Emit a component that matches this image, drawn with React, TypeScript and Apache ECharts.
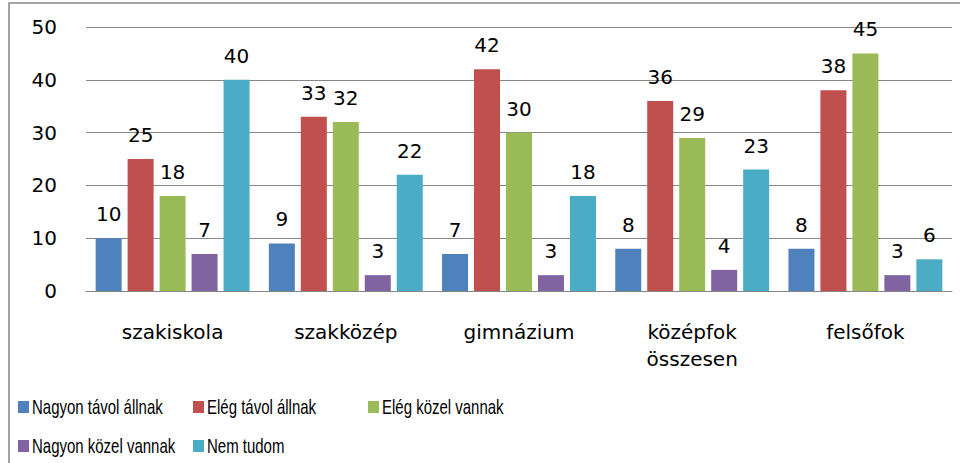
import React, { useEffect, useRef } from "react";
import * as echarts from "echarts";

const categories = ["szakiskola", "szakközép", "gimnázium", "középfok\nösszesen", "felsőfok"];
const seriesNames = ["Nagyon távol állnak", "Elég távol állnak", "Elég közel vannak", "Nagyon közel vannak", "Nem tudom"];
const nagyonTavol = [10, 9, 7, 8, 8];
const elegTavol = [25, 33, 42, 36, 38];
const elegKozel = [18, 32, 30, 29, 45];
const nagyonKozel = [7, 3, 3, 4, 3];
const nemTudom = [40, 22, 18, 23, 6];
const colors = ["#4F81BD", "#C0504D", "#9BBB59", "#8064A2", "#4BACC6"];

const seriesData = [nagyonTavol, elegTavol, elegKozel, nagyonKozel, nemTudom];
const legendPos = [
  [18, 407],
  [193, 407],
  [368, 407],
  [18, 446],
  [193, 446],
];

export default function App() {
  const ref = useRef<HTMLDivElement>(null);
  useEffect(() => {
    const chart = echarts.init(ref.current!, null, { renderer: "svg" });
    const legendGraphics: any[] = [];
    seriesNames.forEach((n, i) => {
      const [lx, ly] = legendPos[i];
      legendGraphics.push({
        type: "rect",
        shape: { x: lx, y: ly - 6, width: 11, height: 12 },
        style: { fill: colors[i] },
        silent: true,
      });
      legendGraphics.push({
        type: "text",
        x: lx + 14,
        y: ly,
        scaleX: 0.75,
        style: {
          text: n,
          fontFamily: "Liberation Sans",
          fontSize: 20,
          fill: "#000",
          textVerticalAlign: "middle",
          textAlign: "left",
        },
        silent: true,
      });
    });
    chart.setOption({
      animation: false,
      backgroundColor: "#ffffff",
      grid: { left: 86, right: 8, top: 27, bottom: 172 },
      xAxis: {
        type: "category",
        data: categories,
        axisLine: { lineStyle: { color: "#868686", width: 1 } },
        axisTick: { show: false },
        axisLabel: {
          color: "#000",
          fontFamily: "DejaVu Sans",
          fontSize: 20,
          margin: 27,
          lineHeight: 27,
        },
      },
      yAxis: {
        type: "value",
        min: 0,
        max: 50,
        interval: 10,
        axisLine: { show: false },
        axisTick: { show: false },
        splitLine: { lineStyle: { color: "#868686", width: 1 } },
        axisLabel: {
          color: "#000",
          fontFamily: "DejaVu Sans",
          fontSize: 20,
          margin: 29,
        },
      },
      series: seriesData.map((d, i) => ({
        type: "bar",
        name: seriesNames[i],
        data: d,
        barWidth: 26,
        barGap: "23%",
        barCategoryGap: "11%",
        itemStyle: { color: colors[i] },
        label: {
          show: true,
          position: "top",
          distance: 14,
          color: "#000",
          fontFamily: "DejaVu Sans",
          fontSize: 20,
        },
      })),
      graphic: [
        {
          type: "rect",
          shape: { x: 9, y: 3, width: 1000, height: 1000 },
          style: { fill: "none", stroke: "#868686", lineWidth: 1.5 },
          silent: true,
        },
        ...legendGraphics,
      ],
    });
    return () => chart.dispose();
  }, []);
  return (
    <div
      ref={ref}
      style={{ position: "fixed", left: 0, top: 0, width: 960, height: 463 }}
    />
  );
}
